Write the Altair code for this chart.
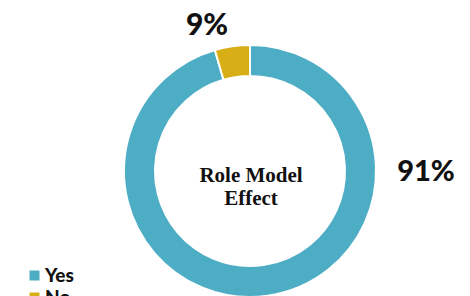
import altair as alt
import pandas as pd

categories = ["Yes", "No"]
slice_values = [95.5, 4.5]          # arc sizes as drawn in the picture
label_texts = ["91%", "9%"]
colors = ["#4DADC4", "#D8AE16"]
center_lines = ["Role Model", "Effect"]

df = pd.DataFrame({"cat": categories, "value": slice_values, "order": [0, 1]})

CX, CY = 242, 163

arcs = alt.Chart(df).mark_arc(
    outerRadius=126, innerRadius=95, stroke="white", strokeWidth=2
).encode(
    theta=alt.Theta("value:Q", stack=True),
    order=alt.Order("order:Q"),
    color=alt.Color(
        "cat:N",
        scale=alt.Scale(domain=categories, range=colors),
        sort=categories,
        legend=alt.Legend(
            title=None, orient="none", legendX=17, legendY=258,
            symbolType="square", symbolSize=100, symbolStrokeWidth=0,
            labelFont="Lato", labelFontWeight=900, labelFontSize=19,
            labelColor="#111111", labelOffset=1, rowPadding=2, padding=0,
        ),
    ),
    x=alt.value(CX),
    y=alt.value(CY),
)

lab_df = pd.DataFrame({"t": label_texts, "x": [418, 199], "y": [164, 18], "fs": [29, 30]})
labels = alt.Chart(lab_df).mark_text(
    font="Lato", fontWeight=900, color="#111111", align="center", baseline="middle"
).encode(
    text="t:N",
    x=alt.X("x:Q", scale=None),
    y=alt.Y("y:Q", scale=None),
    size=alt.Size("fs:Q", scale=None, legend=None),
)

center_df = pd.DataFrame({"t": ["\n".join(center_lines)]})
center = alt.Chart(center_df).mark_text(
    font="Liberation Serif", fontWeight="bold", fontSize=21, lineHeight=23,
    lineBreak="\n", align="center", baseline="middle", color="#111111"
).encode(text="t:N", x=alt.value(CX + 1), y=alt.value(CY + 5))

chart = alt.layer(arcs, labels, center).properties(
    width=454, height=300, autosize=alt.AutoSizeParams(type="none"), padding=0
).configure_view(stroke=None)

chart.save("out.html", embed_options={"renderer": "svg", "actions": False})
